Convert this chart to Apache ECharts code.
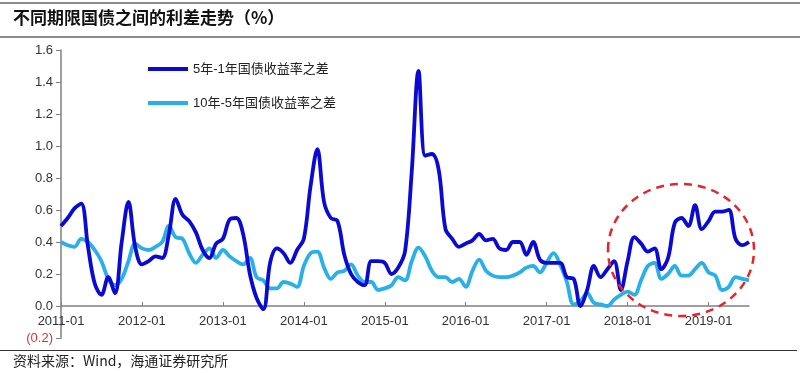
<!DOCTYPE html>
<html>
<head>
<meta charset="utf-8">
<script src="https://cdn.jsdelivr.net/npm/echarts@6/dist/echarts.min.js"></script>
<style>
html,body{margin:0;padding:0;background:#fff;}
#chart{width:800px;height:373px;}
</style>
</head>
<body>
<div id="chart"></div>
<script>
// Months 2011-01 .. 2019-07
const categories = [];
for (let y = 2011; y <= 2019; y++) {
  for (let m = 1; m <= 12; m++) {
    if (y === 2019 && m > 7) break;
    categories.push(y + '-' + (m < 10 ? '0' + m : m));
  }
}

const spread5y1y = [
  0.50,0.55,0.61,0.64,0.37,0.14,0.07,0.18,0.08,0.40,0.65,0.37,
  0.26,0.28,0.31,0.30,0.45,0.67,0.57,0.53,0.46,0.35,0.30,0.39,
  0.42,0.54,0.55,0.45,0.20,0.05,-0.02,0.27,0.36,0.33,0.27,0.35,
  0.42,0.75,0.98,0.65,0.55,0.53,0.32,0.20,0.15,0.13,0.28,0.28,
  0.27,0.20,0.24,0.34,0.84,1.47,0.94,0.95,0.85,0.48,0.42,0.37,
  0.39,0.41,0.45,0.41,0.42,0.36,0.35,0.40,0.40,0.32,0.40,0.29,
  0.27,0.27,0.27,0.18,0.17,0.00,0.10,0.25,0.18,0.23,0.28,0.10,
  0.28,0.43,0.39,0.34,0.36,0.23,0.30,0.52,0.55,0.50,0.63,0.48,
  0.53,0.59,0.59,0.60,0.42,0.38,0.40
];

const spread10y5y = [
  0.40,0.38,0.37,0.42,0.40,0.35,0.28,0.17,0.13,0.17,0.28,0.39,
  0.36,0.35,0.37,0.40,0.50,0.43,0.42,0.33,0.27,0.32,0.36,0.30,
  0.35,0.31,0.28,0.26,0.30,0.18,0.16,0.11,0.11,0.15,0.14,0.12,
  0.25,0.33,0.34,0.24,0.17,0.21,0.22,0.26,0.19,0.15,0.15,0.10,
  0.11,0.13,0.18,0.16,0.28,0.365,0.31,0.22,0.18,0.18,0.15,0.17,
  0.12,0.22,0.29,0.22,0.19,0.18,0.18,0.19,0.21,0.24,0.25,0.21,
  0.27,0.33,0.26,0.15,0.01,0.03,0.08,0.02,0.01,0.00,0.04,0.07,
  0.09,0.07,0.16,0.25,0.27,0.17,0.20,0.25,0.19,0.19,0.23,0.27,
  0.21,0.19,0.10,0.12,0.18,0.17,0.16
];

const seriesNames = ['5年-1年国债收益率之差', '10年-5年国债收益率之差'];
const yTicks = { min: -0.2, max: 1.6, interval: 0.2 };
const titleText = '不同期限国债之间的利差走势（%）';
const sourceText = '资料来源：Wind，海通证券研究所';

const chart = echarts.init(document.getElementById('chart'), null, { renderer: 'canvas' });
const font = '"Liberation Sans", Arial, "Noto Sans CJK SC", sans-serif';

chart.setOption({
  backgroundColor: '#fff',
  animation: false,
  textStyle: { fontFamily: font },
  grid: { left: 61, right: 51, top: 50, bottom: 35, containLabel: false },
  legend: {
    orient: 'vertical',
    left: 143,
    top: 57,
    itemWidth: 40,
    itemHeight: 4,
    itemGap: 20,
    icon: 'rect',
    data: seriesNames,
    textStyle: { fontSize: 13, color: '#222', lineHeight: 14, fontFamily: font }
  },
  xAxis: {
    type: 'category',
    data: categories,
    boundaryGap: false,
    offset: -32,
    axisLine: { onZero: false, lineStyle: { color: '#808080', width: 1.5 } },
    axisTick: { show: true, inside: true, length: 4, interval: 11, lineStyle: { color: '#808080' } },
    axisLabel: { interval: 11, color: '#333', fontSize: 13, margin: 9, fontFamily: font },
    splitLine: { show: false }
  },
  yAxis: {
    type: 'value',
    min: yTicks.min,
    max: yTicks.max,
    interval: yTicks.interval,
    axisLine: { show: true, onZero: false, lineStyle: { color: '#808080', width: 1.5 } },
    axisTick: { show: true, length: 5, lineStyle: { color: '#808080' } },
    axisLabel: {
      color: '#333', fontSize: 13, margin: 8, fontFamily: font,
      formatter: function (v) {
        const r = Math.round(v * 10) / 10;
        if (r < 0) return '{neg|(' + Math.abs(r).toFixed(1) + ')}';
        return r.toFixed(1);
      },
      rich: { neg: { color: '#e0303a', fontSize: 13, fontFamily: font } }
    },
    splitLine: { show: false }
  },
  series: [
    {
      name: seriesNames[0],
      type: 'line',
      data: spread5y1y,
      smooth: 0.35,
      showSymbol: false,
      symbol: 'none',
      lineStyle: { color: '#0a0ad2', width: 3.8 },
      itemStyle: { color: '#0a0ad2' },
      z: 3
    },
    {
      name: seriesNames[1],
      type: 'line',
      data: spread10y5y,
      smooth: 0.35,
      showSymbol: false,
      symbol: 'none',
      lineStyle: { color: '#2ab0e8', width: 3.8 },
      itemStyle: { color: '#2ab0e8' },
      z: 2
    }
  ],
  graphic: [
    { type: 'rect', left: 0, top: 2, shape: { width: 800, height: 2 }, style: { fill: '#8c8c8c' } },
    { type: 'text', left: 13, top: 9, style: { text: titleText, fill: '#111', font: 'bold 17px "Noto Sans CJK SC", sans-serif' } },
    { type: 'rect', left: 0, top: 36, shape: { width: 800, height: 2 }, style: { fill: '#8c8c8c' } },
    { type: 'rect', left: 0, top: 350, shape: { width: 797, height: 1 }, style: { fill: '#333' } },
    { type: 'text', left: 13, top: 354, style: { text: sourceText, fill: '#222', font: '14px "Noto Sans CJK SC", sans-serif' } },
    { type: 'ellipse', shape: { cx: 681, cy: 250, rx: 73, ry: 66 }, style: { fill: 'none', stroke: '#e8242a', lineWidth: 2.5, lineDash: [8, 6] }, z: 10 }
  ]
});
</script>
</body>
</html>
